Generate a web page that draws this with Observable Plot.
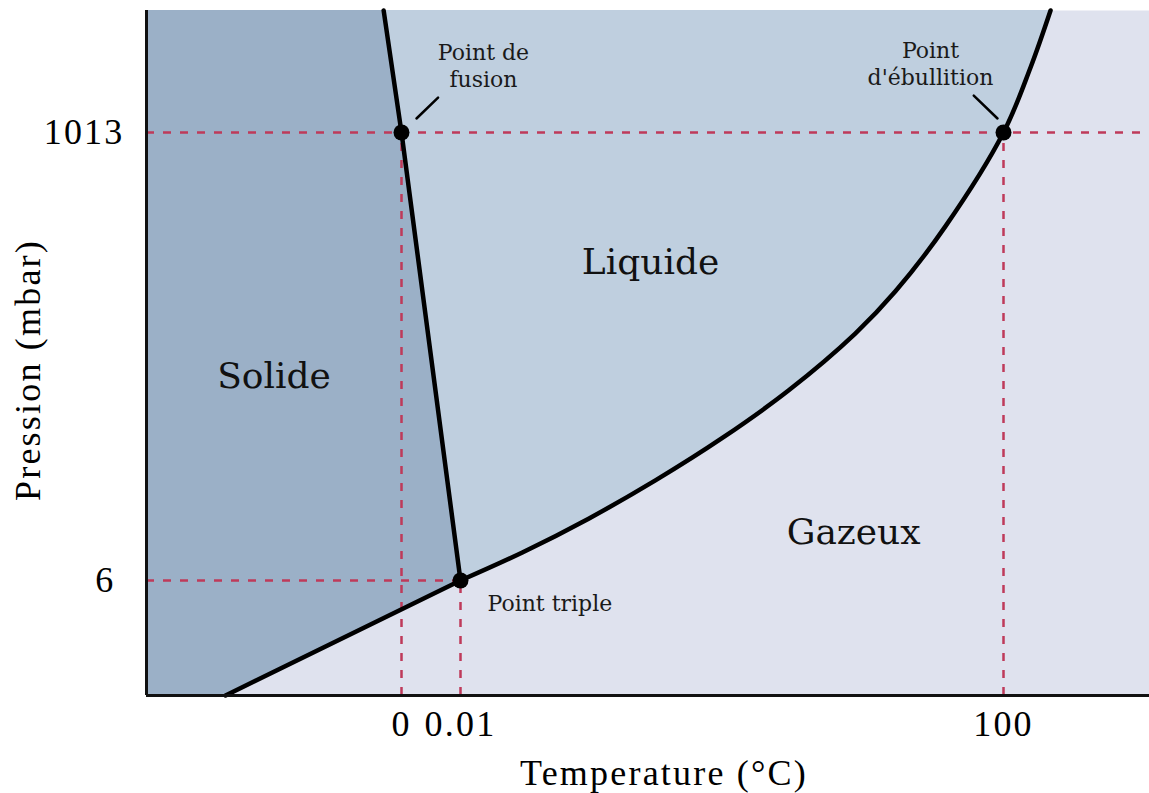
<!DOCTYPE html>
<html>
<head>
<meta charset="utf-8">
<script src="https://cdn.jsdelivr.net/npm/d3@7"></script>
<script src="https://cdn.jsdelivr.net/npm/@observablehq/plot@0.6"></script>
<style>
  html, body { margin: 0; padding: 0; background: #fff; }
  g[aria-label="x-axis tick label"] text,
  g[aria-label="y-axis tick label"] text { letter-spacing: 2.2px; }
</style>
</head>
<body>
<div id="chart"></div>
<script>
// Temperatures in °C, pressures in mbar (schematic phase diagram of water)
const sublimation = [
  {T: -6.9, p: 0},
  {T: 0.01, p: 6}
];
const fusion = [
  {T: 0.01, p: 6},
  {T: 0, p: 1013},
  {T: -0.7, p: 1287}
];
const vaporization = [
  {T: 0.01, p: 6},
  {T: 11.4, p: 69},
  {T: 23.6, p: 145},
  {T: 35.9, p: 231},
  {T: 48.3, p: 327},
  {T: 60.4, p: 433},
  {T: 72.7, p: 561},
  {T: 80.1, p: 656},
  {T: 89.3, p: 802},
  {T: 100, p: 1013},
  {T: 105.0, p: 1159},
  {T: 108.7, p: 1287}
];
const keyPoints = [
  {name: "triple", label: "Point triple", T: 0.01, p: 6},
  {name: "fusion", label: "Point de\nfusion", T: 0, p: 1013},
  {name: "ebullition", label: "Point\nd'ébullition", T: 100, p: 1013}
];
const phases = [
  {name: "Solide", T: -5.0, p: 465},
  {name: "Liquide", T: 35.0, p: 721},
  {name: "Gazeux", T: 72.4, p: 114}
];
const xTicks = [0, 0.01, 100];
const yTicks = [6, 1013];
const xLabel = "Temperature (°C)";
const yLabel = "Pression (mbar)";

const Tmin = -10, Tmax = 127, Pmin = 0, Pmax = 1287;

const colSolid = "#9bb0c7";
const colLiquid = "#bfcfdf";
const colGas = "#dfe2ee";
const colDash = "#bf3a5a";

const solidBoundary = sublimation.concat(fusion.slice(1));
const byName = n => keyPoints.filter(d => d.name === n);

const leader = {
  draw(context, l) { context.moveTo(0, 0); context.lineTo(0, -l); }
};

const serifTick = "Liberation Serif";
const serifText = "DejaVu Serif";

const chart = Plot.plot({
  width: 1149,
  height: 793,
  marginLeft: 146,
  marginRight: 0,
  marginTop: 10,
  marginBottom: 98,
  style: {fontFamily: serifText, background: "#fff", color: "#000"},
  x: {type: "linear", domain: [Tmin, 0, 0.01, 100, Tmax], range: [146, 401, 460, 1003, 1149]},
  y: {type: "linear", domain: [Pmin, 6, 1013, Pmax], range: [695, 580, 132, 10]},
  marks: [
    Plot.frame({fill: colGas, stroke: null}),
    Plot.areaX(vaporization, {y: "p", x1: Tmin, x2: "T", fill: colLiquid, curve: "catmull-rom"}),
    Plot.areaX(solidBoundary, {y: "p", x1: Tmin, x2: "T", fill: colSolid}),
    // dashed reference lines
    Plot.ruleX(keyPoints, {x: "T", y1: Pmin, y2: "p", stroke: colDash, strokeWidth: 2.5, strokeDasharray: "8,9"}),
    Plot.ruleY(byName("triple"), {y: "p", x1: Tmin, x2: "T", stroke: colDash, strokeWidth: 2.5, strokeDasharray: "8,9"}),
    Plot.ruleY(byName("fusion"), {y: "p", x1: Tmin, x2: Tmax, stroke: colDash, strokeWidth: 2.5, strokeDasharray: "8,9"}),
    // phase boundaries
    Plot.line(sublimation, {x: "T", y: "p", stroke: "#000", strokeWidth: 4.5}),
    Plot.line(fusion, {x: "T", y: "p", stroke: "#000", strokeWidth: 4.5}),
    Plot.line(vaporization, {x: "T", y: "p", stroke: "#000", strokeWidth: 4.5, curve: "catmull-rom"}),
    // axes borders
    Plot.ruleX([Tmin], {y1: Pmin, y2: Pmax, stroke: "#111", strokeWidth: 3}),
    Plot.ruleY([Pmin], {x1: Tmin, x2: Tmax, stroke: "#111", strokeWidth: 3}),
    // key points
    Plot.dot(keyPoints, {x: "T", y: "p", r: 8, fill: "#000", stroke: null}),
    // leaders
    Plot.vector(byName("fusion"), {x: "T", y: "p", length: 30, rotate: 46, anchor: "start", shape: leader, dx: 15, dy: -14, stroke: "#000", strokeWidth: 2.5}),
    Plot.vector(byName("ebullition"), {x: "T", y: "p", length: 33, rotate: -46, anchor: "start", shape: leader, dx: -6, dy: -14, stroke: "#000", strokeWidth: 2.5}),
    // annotations
    Plot.text(byName("fusion"), {x: "T", y: "p", text: "label", dx: 82, dy: -68, fontSize: 22, lineHeight: 1.25, fill: "#1a1a1a"}),
    Plot.text(byName("ebullition"), {x: "T", y: "p", text: "label", dx: -73, dy: -70, fontSize: 22, lineHeight: 1.25, fill: "#1a1a1a"}),
    Plot.text(byName("triple"), {x: "T", y: "p", text: "label", dx: 27, dy: 23, textAnchor: "start", fontSize: 22, fill: "#1a1a1a"}),
    // phase names
    Plot.text(phases, {x: "T", y: "p", text: "name", fontSize: 36, fill: "#111"}),
    // axes
    Plot.axisX(xTicks, {tickSize: 0, tickPadding: 15, fontSize: 36, fontFamily: serifTick, tickFormat: d => String(d), label: null}),
    Plot.axisY(yTicks.filter(d => d === 1013), {tickSize: 0, tickPadding: 22, fontSize: 36, fontFamily: serifTick, tickFormat: d => String(d), label: null}),
    Plot.axisY(yTicks.filter(d => d === 6), {tickSize: 0, tickPadding: 31, fontSize: 36, fontFamily: serifTick, tickFormat: d => String(d), label: null}),
    Plot.text([xLabel], {text: d => d, frameAnchor: "bottom", textAnchor: "middle", lineAnchor: "middle", dx: 16, dy: 78, fontSize: 36, fontFamily: serifTick}),
    Plot.text([yLabel], {text: d => d, frameAnchor: "left", textAnchor: "middle", lineAnchor: "middle", dx: -118, dy: 17, rotate: -90, fontSize: 36, fontFamily: serifTick})
  ]
});
d3.select(chart).selectAll("text")
  .filter(function() { return this.textContent === xLabel || this.textContent === yLabel; })
  .style("letter-spacing", "2.2px");
document.getElementById("chart").appendChild(chart);
</script>
</body>
</html>
